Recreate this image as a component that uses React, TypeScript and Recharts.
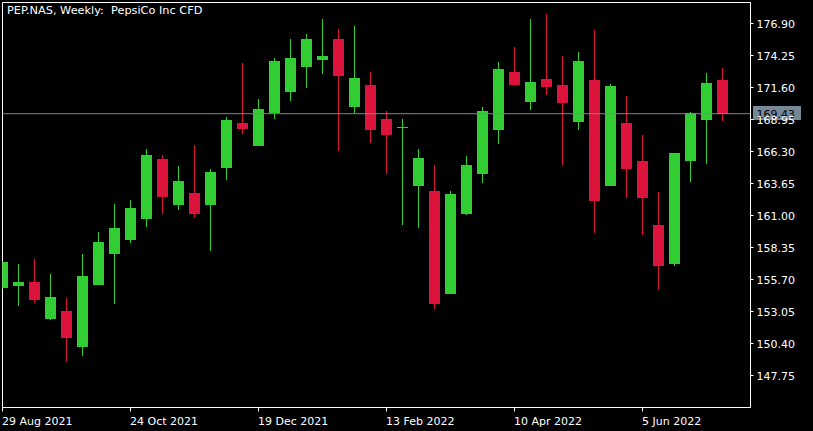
import React from 'react';
import { ComposedChart, Bar, XAxis, YAxis, ReferenceLine, ReferenceArea } from 'recharts';

const title = 'PEP.NAS, Weekly:  PepsiCo Inc CFD';

const weekIndex = Array.from({ length: 46 }, (_, k) => k);

const opens = [155.0, 155.17, 155.48, 152.44, 153.07, 150.12, 155.25, 157.82, 158.98, 160.72,
  165.66, 161.88, 162.85, 161.88, 164.94, 168.64, 166.76, 169.47, 171.24, 173.31,
  173.89, 175.6, 169.99, 171.79, 168.97, 168.31, 163.45, 163.01, 154.51, 161.13,
  164.44, 168.09, 172.87, 170.41, 172.29, 171.79, 168.75, 172.2, 163.45, 168.64,
  165.5, 160.2, 156.99, 165.52, 168.92, 172.2];
const highs = [157.2, 156.97, 157.38, 156.14, 154.15, 157.79, 159.62, 161.94, 162.27, 166.49,
  165.99, 165.08, 166.82, 164.83, 169.14, 173.61, 170.63, 174.03, 175.6, 176.04,
  177.26, 176.43, 176.68, 172.87, 169.64, 168.97, 166.49, 165.16, 163.01, 165.91,
  169.97, 173.7, 174.94, 177.26, 177.67, 174.19, 174.52, 176.35, 171.87, 170.88,
  167.65, 162.93, 166.16, 169.55, 172.78, 173.2];
const lows = [154.9, 153.51, 153.76, 152.35, 148.88, 149.37, 155.23, 153.68, 158.73, 160.06,
  161.13, 161.46, 160.8, 158.07, 163.95, 167.76, 166.76, 169.0, 170.49, 171.57,
  172.73, 166.35, 169.47, 167.01, 164.44, 160.22, 159.97, 153.26, 154.51, 161.05,
  163.7, 166.93, 171.73, 169.74, 170.99, 165.19, 168.09, 159.56, 163.45, 162.46,
  159.39, 154.84, 156.83, 163.78, 165.27, 168.83];
const closes = [157.13, 155.48, 154.01, 154.23, 150.86, 155.97, 158.79, 159.95, 161.6, 165.99,
  162.54, 163.84, 161.13, 164.59, 168.89, 168.17, 169.8, 173.78, 174.03, 175.6,
  174.19, 172.56, 172.37, 168.09, 167.67, 168.33, 165.74, 153.68, 162.76, 165.16,
  169.64, 173.12, 171.82, 172.04, 171.65, 170.32, 173.78, 162.21, 171.71, 164.86,
  162.46, 156.83, 166.16, 169.47, 171.96, 169.43];

const dateTickIndex = [0, 8, 16, 24, 32, 40];
const dateTickLabels = ['29 Aug 2021', '24 Oct 2021', '19 Dec 2021', '13 Feb 2022', '10 Apr 2022', '5 Jun 2022'];
const priceTicks = [147.75, 150.4, 153.05, 155.7, 158.35, 161.0, 163.65, 166.3, 168.95, 171.6, 174.25, 176.9];
const lastPrice = 169.43;
const yDomain: [number, number] = [145.1, 178.64];
const xDomain: [number, number] = [0, 46.75];

const data = weekIndex.map((i) => ({
  i,
  open: opens[i],
  high: highs[i],
  low: lows[i],
  close: closes[i],
  range: [lows[i], highs[i]],
}));

const BULL = '#32CD32';
const BEAR = '#DC143C';
const FONT = '"DejaVu Sans", sans-serif';

const Candle = (props: any) => {
  const { x, y, width, height, payload } = props;
  if (payload == null) return null;
  const { open, high, low, close } = payload;
  const cx = Math.floor(x + width / 2) + 0.5;
  const ppu = height / (high - low);
  const yOpen = y + (high - open) * ppu;
  const yClose = y + (high - close) * ppu;
  const top = Math.min(yOpen, yClose);
  const bodyH = Math.max(1, Math.abs(yOpen - yClose));
  const color = close >= open ? BULL : BEAR;
  return (
    <g>
      <line x1={cx} x2={cx} y1={y} y2={y + height} stroke={color} strokeWidth={1} shapeRendering="crispEdges" />
      <rect x={cx - 5.5} y={top} width={11} height={bodyH} fill={color} shapeRendering="crispEdges" />
    </g>
  );
};

const DateTick = (props: any) => {
  const { x, y, payload } = props;
  const k = dateTickIndex.indexOf(payload.value);
  return (
    <text x={x - 0.5} y={y + 11} fill="#fff" fontSize={11} fontFamily={FONT} textAnchor="start">
      {k >= 0 ? dateTickLabels[k] : ''}
    </text>
  );
};

const PriceTick = (props: any) => {
  const { x, y, payload } = props;
  return (
    <text x={x} y={y + 4} fill="#fff" fontSize={11} fontFamily={FONT} textAnchor="start">
      {Number(payload.value).toFixed(2)}
    </text>
  );
};

const PriceLabel = (props: any) => {
  const { viewBox } = props;
  if (!viewBox) return null;
  const right = viewBox.x + viewBox.width;
  const cy = viewBox.y;
  return (
    <g>
      <rect x={right + 2.5} y={Math.round(cy) - 8} width={48} height={14} fill="#778899" shapeRendering="crispEdges" />
      <text x={right + 6} y={cy + 4} fill="#000" fontSize={11} fontFamily={FONT} textAnchor="start">
        {lastPrice.toFixed(2)}
      </text>
    </g>
  );
};

export default function App() {
  return (
    <div style={{ position: 'absolute', left: 0, top: 0, width: 813, height: 431, background: '#000' }}>
      <ComposedChart
        width={813}
        height={431}
        data={data}
        margin={{ top: 2.5, right: 0, left: 2.5, bottom: 0 }}
        style={{ background: '#000' }}
      >
        <XAxis
          dataKey="i"
          type="number"
          domain={xDomain}
          allowDataOverflow
          ticks={dateTickIndex}
          interval={0}
          height={23.5}
          stroke="#fff"
          tickSize={4}
          tick={<DateTick />}
          axisLine={{ stroke: '#fff' }}
          tickLine={{ stroke: '#fff' }}
        />
        <YAxis
          orientation="right"
          type="number"
          domain={yDomain}
          allowDataOverflow
          ticks={priceTicks}
          interval={0}
          width={62.5}
          tickSize={3}
          tickMargin={3}
          tick={<PriceTick />}
          axisLine={{ stroke: '#fff' }}
          tickLine={{ stroke: '#fff' }}
        />
        <ReferenceArea
          x1={xDomain[0]}
          x2={xDomain[1]}
          y1={yDomain[0]}
          y2={yDomain[1]}
          fill="none"
          stroke="#fff"
          strokeWidth={1}
          fillOpacity={0}
          ifOverflow="visible"
        />
        <ReferenceLine y={lastPrice} stroke="#778899" strokeWidth={1} ifOverflow="visible" label={<PriceLabel />} />
        <Bar dataKey="range" barSize={11} shape={<Candle />} isAnimationActive={false} />
      </ComposedChart>
      <div
        style={{
          position: 'absolute',
          left: 7,
          top: 4,
          color: '#fff',
          fontSize: 11.3,
          fontFamily: FONT,
          lineHeight: '14px',
          whiteSpace: 'pre',
        }}
      >
        {title}
      </div>
    </div>
  );
}
